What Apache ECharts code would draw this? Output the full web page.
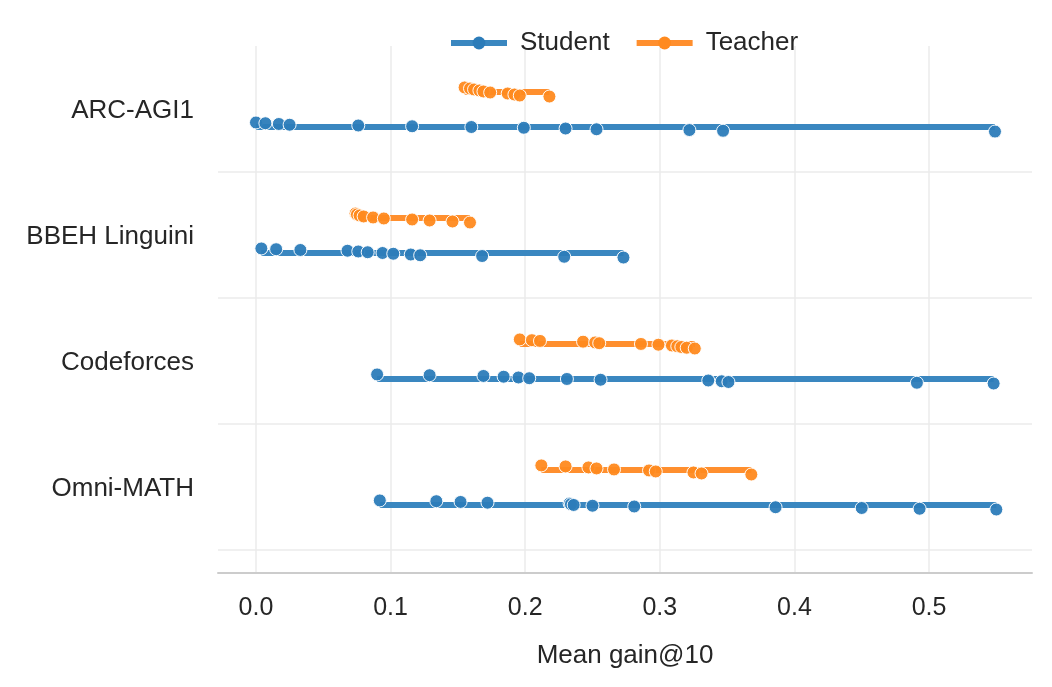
<!DOCTYPE html>
<html>
<head>
<meta charset="utf-8">
<script src="https://cdn.jsdelivr.net/npm/echarts@6/dist/echarts.min.js"></script>
<style>
  html, body { margin: 0; background: #fff; }
  #myChart { width: 1052px; height: 687px; }
</style>
</head>
<body>
<div id="myChart"></div>
<script>
// benchmarks, top to bottom
const benchmarks = ['ARC-AGI1', 'BBEH Linguini', 'Codeforces', 'Omni-MATH']

// mean gain@10 per model
const arcStudent = [0.000, 0.007, 0.017, 0.025, 0.076, 0.116, 0.160, 0.199, 0.230, 0.253, 0.322, 0.347, 0.549]
const arcTeacher = [0.155, 0.159, 0.162, 0.166, 0.169, 0.174, 0.187, 0.192, 0.196, 0.218]
const bbehStudent = [0.004, 0.015, 0.033, 0.068, 0.076, 0.083, 0.094, 0.102, 0.115, 0.122, 0.168, 0.229, 0.273]
const bbehTeacher = [0.074, 0.075, 0.077, 0.080, 0.087, 0.095, 0.116, 0.129, 0.146, 0.159]
const cfStudent = [0.090, 0.129, 0.169, 0.184, 0.195, 0.203, 0.231, 0.256, 0.336, 0.346, 0.351, 0.491, 0.548]
const cfTeacher = [0.196, 0.205, 0.211, 0.243, 0.252, 0.255, 0.286, 0.299, 0.309, 0.313, 0.316, 0.320, 0.326]
const omniStudent = [0.092, 0.134, 0.152, 0.172, 0.233, 0.234, 0.236, 0.250, 0.281, 0.386, 0.450, 0.493, 0.550]
const omniTeacher = [0.212, 0.230, 0.247, 0.253, 0.266, 0.292, 0.297, 0.325, 0.331, 0.368]

const studentData = [arcStudent, bbehStudent, cfStudent, omniStudent]
const teacherData = [arcTeacher, bbehTeacher, cfTeacher, omniTeacher]

const font = "'Liberation Sans', Arial, sans-serif"
const textColor = '#262626'

// row layout (y axis units, one unit per benchmark)
const studentRow = 0.643
const teacherRow = 0.365
const labelRow = 0.516
const spread = 0.036

const roles = [
  { name: 'Student', data: studentData, row: studentRow, line: '#3a87c0', dot: '#2c7cb9' },
  { name: 'Teacher', data: teacherData, row: teacherRow, line: '#ff8f2e', dot: '#ff8a1f' }
]

let series = []
roles.forEach(role => {
  role.data.forEach((vals, i) => {
    const y = i + role.row
    series.push({
      name: role.name,
      type: 'line',
      data: [[Math.min(...vals), y], [Math.max(...vals), y]],
      symbol: 'circle',
      symbolSize: 13,
      showSymbol: false,
      silent: true,
      lineStyle: { width: 6, color: role.line },
      itemStyle: { color: role.dot },
      z: 2
    })
  })
  role.data.forEach((vals, i) => {
    const n = vals.length
    // small vertical dodge by rank, like the original
    const pts = vals.map((v, k) => [v, i + role.row - spread + 2 * spread * k / (n - 1)])
    series.push({
      name: role.name,
      type: 'scatter',
      data: pts,
      symbol: 'circle',
      symbolSize: 13,
      itemStyle: { color: role.dot, borderColor: '#ffffff', borderWidth: 1, opacity: 0.95 },
      z: 3
    })
  })
})

let myChart = echarts.init(document.getElementById('myChart'))
myChart.setOption({
  animation: false,
  textStyle: { fontFamily: font },
  legend: {
    data: ['Student', 'Teacher'],
    top: 25,
    left: 443,
    itemWidth: 56,
    itemHeight: 16,
    itemGap: 24,
    lineStyle: { width: 6 },
    textStyle: { fontSize: 26, color: textColor, fontFamily: font, padding: [0, 0, 0, 8] }
  },
  grid: {
    left: 218,
    right: 20,
    top: 46,
    bottom: 114,
    containLabel: false,
    outerBoundsMode: 'none'
  },
  xAxis: {
    type: 'value',
    min: -0.0282,
    max: 0.5765,
    splitNumber: 6,
    name: 'Mean gain@10',
    nameLocation: 'middle',
    nameGap: 70,
    nameTextStyle: { fontSize: 26, color: textColor, fontFamily: font },
    axisLine: { show: true, onZero: false, lineStyle: { color: '#cccccc', width: 2 } },
    axisTick: { show: false },
    axisLabel: {
      fontSize: 25,
      color: textColor,
      fontFamily: font,
      margin: 23,
      showMinLabel: false,
      showMaxLabel: false,
      formatter: v => Math.abs(v * 10 - Math.round(v * 10)) < 1e-6 ? v.toFixed(1) : ''
    },
    splitLine: { show: true, showMinLine: false, showMaxLine: false, lineStyle: { color: '#ebebeb', width: 1.5 } }
  },
  yAxis: {
    type: 'value',
    inverse: true,
    min: 0,
    max: 4.183,
    interval: 1,
    axisLine: { show: false },
    axisTick: { show: false },
    axisLabel: {
      fontSize: 26,
      color: textColor,
      fontFamily: font,
      margin: 24,
      customValues: benchmarks.map((b, i) => i + labelRow),
      formatter: v => benchmarks[Math.round(v - labelRow)] || ''
    },
    splitLine: { show: true, showMinLine: false, showMaxLine: false, lineStyle: { color: '#ebebeb', width: 1.5 } }
  },
  series: series
})
</script>
</body>
</html>
